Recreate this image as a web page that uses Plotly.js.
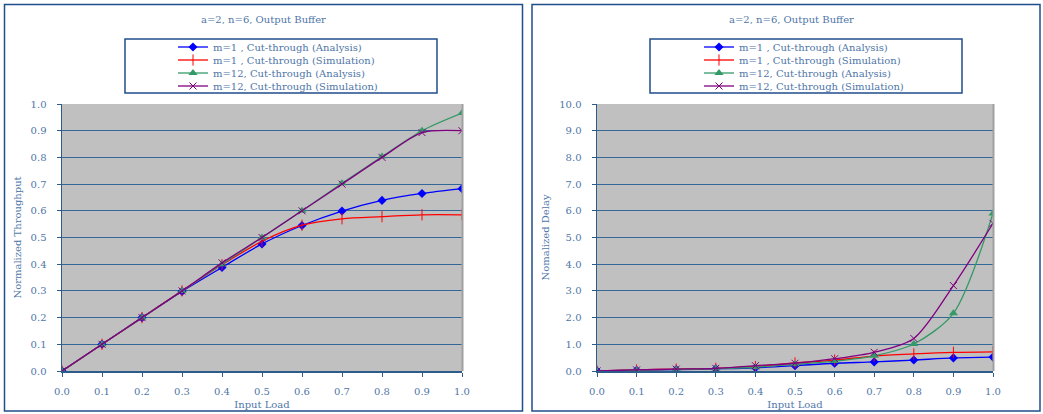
<!DOCTYPE html>
<html>
<head>
<meta charset="utf-8">
<script src="https://cdn.plot.ly/plotly-3.0.1.min.js"></script>
<style>html,body{margin:0;padding:0;background:#fff;}#chart{width:1043px;height:414px;}</style>
</head>
<body>
<div id="chart"></div>
<script>
const inputLoad = [0.0, 0.1, 0.2, 0.3, 0.4, 0.5, 0.6, 0.7, 0.8, 0.9, 1.0];
const seriesNames = [
  "m=1 , Cut-through (Analysis)",
  "m=1 , Cut-through (Simulation)",
  "m=12, Cut-through (Analysis)",
  "m=12, Cut-through (Simulation)"
];
// Left: normalized throughput
const thrM1Ana = [0, 0.1, 0.2, 0.298, 0.388, 0.476, 0.545, 0.599, 0.639, 0.665, 0.683];
const thrM1Sim = [0, 0.1, 0.2, 0.3, 0.398, 0.486, 0.546, 0.570, 0.578, 0.585, 0.585];
const thrM12Ana = [0, 0.1, 0.2, 0.3, 0.4, 0.5, 0.6, 0.703, 0.803, 0.9, 0.966];
const thrM12Sim = [0, 0.1, 0.2, 0.3, 0.405, 0.5, 0.6, 0.7, 0.8, 0.893, 0.90];
// Right: normalized delay
const delM1Ana = [0, 0.03, 0.05, 0.08, 0.12, 0.2, 0.29, 0.34, 0.41, 0.49, 0.52];
const delM1Sim = [0, 0.04, 0.07, 0.1, 0.17, 0.3, 0.41, 0.56, 0.64, 0.70, 0.72];
const delM12Ana = [0, 0.03, 0.06, 0.09, 0.14, 0.25, 0.37, 0.57, 1.01, 2.16, 5.9];
const delM12Sim = [0, 0.04, 0.07, 0.1, 0.2, 0.29, 0.46, 0.7, 1.22, 3.2, 5.53];

const chartTitle = "a=2, n=6, Output Buffer";
const xTitle = "Input Load";
const yTitleLeft = "Normalized Throughput";
const yTitleRight = "Nomalized Delay";

const styles = [
  {color: "#0000ff", symbol: "diamond", size: 7, lw: 0},
  {color: "#ff0000", symbol: "line-ns", size: 8, lw: 1},
  {color: "#339966", symbol: "triangle-up", size: 8, lw: 0},
  {color: "#800080", symbol: "x-thin", size: 7, lw: 1}
];

function mk(y, i, xa, ya, leg) {
  const s = styles[i];
  return {
    x: inputLoad, y: y, name: seriesNames[i], type: "scatter", mode: "lines+markers",
    xaxis: xa, yaxis: ya, legend: leg,
    line: {color: s.color, width: 1.3, shape: "spline", smoothing: 0.8},
    marker: {color: s.color, symbol: s.symbol, size: s.size, line: {color: s.color, width: s.lw}}
  };
}
const data = [
  mk(thrM1Ana, 0, "x", "y", "legend"), mk(thrM1Sim, 1, "x", "y", "legend"),
  mk(thrM12Ana, 2, "x", "y", "legend"), mk(thrM12Sim, 3, "x", "y", "legend"),
  mk(delM1Ana, 0, "x2", "y2", "legend2"), mk(delM1Sim, 1, "x2", "y2", "legend2"),
  mk(delM12Ana, 2, "x2", "y2", "legend2"), mk(delM12Sim, 3, "x2", "y2", "legend2")
];

const W = 1043, H = 414;
const px = v => v / W, py = v => (H - v) / H;
const txtColor = "#4f76a8";
const axisColor = "#2e5c8a";
const fam = "DejaVu Serif, serif";
const fnt = {family: fam, size: 10, color: txtColor};

function xax(domain, anchor) {
  return {
    domain: domain, anchor: anchor, range: [0, 1], tickvals: inputLoad, tickformat: ".1f",
    ticks: "outside", ticklen: 4, tickcolor: axisColor, showline: true, linecolor: axisColor, linewidth: 1.5,
    showgrid: false, zeroline: false, tickfont: fnt, ticklabelstandoff: 6,
    title: {text: xTitle, font: fnt, standoff: 5}
  };
}
function yax(domain, anchor, rng, dt, title) {
  return {
    domain: domain, anchor: anchor, range: rng, dtick: dt, tick0: 0, tickformat: ".1f",
    ticks: "outside", ticklen: 4, tickcolor: axisColor, showline: true, linecolor: axisColor, linewidth: 1.5,
    showgrid: true, gridcolor: "#336699", gridwidth: 1, zeroline: false, tickfont: fnt, ticklabelstandoff: 8,
    title: {text: title, font: fnt, standoff: 7}
  };
}
const yDom = [py(371), py(104)];
const legFont = {family: fam, size: 10, color: txtColor};
const layout = {
  width: W, height: H, margin: {l: 0, r: 0, t: 0, b: 0},
  paper_bgcolor: "#ffffff", plot_bgcolor: "#c0c0c0", font: fnt, showlegend: true,
  xaxis: xax([px(62), px(462)], "y"),
  yaxis: yax(yDom, "x", [0, 1], 0.1, yTitleLeft),
  xaxis2: xax([px(597), px(993)], "y2"),
  yaxis2: yax(yDom, "x2", [0, 10], 1, yTitleRight),
  legend: {x: px(173), y: py(38), xanchor: "left", yanchor: "top", bgcolor: "rgba(0,0,0,0)",
    font: legFont, tracegroupgap: 0, itemwidth: 30},
  legend2: {x: px(699), y: py(38), xanchor: "left", yanchor: "top", bgcolor: "rgba(0,0,0,0)",
    font: legFont, tracegroupgap: 0, itemwidth: 30},
  annotations: [
    {text: chartTitle, xref: "paper", yref: "paper", x: px(263), y: py(20), xanchor: "center", yanchor: "middle", showarrow: false, font: fnt},
    {text: chartTitle, xref: "paper", yref: "paper", x: px(791), y: py(20), xanchor: "center", yanchor: "middle", showarrow: false, font: fnt}
  ],
  shapes: [
    {type: "rect", xref: "paper", yref: "paper", x0: px(4.5), x1: px(522.5), y0: py(411), y1: py(4.5), line: {color: "#1f4e8c", width: 1.5}},
    {type: "rect", xref: "paper", yref: "paper", x0: px(532), x1: px(1040), y0: py(411), y1: py(4.5), line: {color: "#1f4e8c", width: 1.5}},
    {type: "rect", xref: "paper", yref: "paper", x0: px(125), x1: px(437), y0: py(93), y1: py(39), line: {color: "#1f4e8c", width: 1.5}},
    {type: "rect", xref: "paper", yref: "paper", x0: px(650), x1: px(962), y0: py(93), y1: py(39), line: {color: "#1f4e8c", width: 1.5}},
    {type: "line", xref: "paper", yref: "paper", x0: px(462.5), x1: px(462.5), y0: py(371), y1: py(104), line: {color: "#a0a0a0", width: 2}},
    {type: "line", xref: "paper", yref: "paper", x0: px(993.5), x1: px(993.5), y0: py(371), y1: py(104), line: {color: "#a0a0a0", width: 2}}
  ]
};

function parseT(el) {
  const t = el.getAttribute("transform") || "";
  const m = t.match(/translate\(\s*([-\d.e]+)[ ,]+([-\d.e]+)\s*\)/);
  return m ? [parseFloat(m[1]), parseFloat(m[2])] : [0, 0];
}
Plotly.newPlot("chart", data, layout, {displayModeBar: false, staticPlot: true}).then(function (gd) {
  // tighten legend row spacing to match the reference (13px rows, first row centred at y=47)
  gd.querySelectorAll("g.infolayer > g").forEach(function (lg) {
    const cls = lg.getAttribute("class") || "";
    if (!/^legend\d*$/.test(cls)) return;
    const lt = parseT(lg);
    lg.querySelectorAll("g.traces").forEach(function (tr, i) {
      let off = 0, n = tr.parentNode;
      while (n && n !== lg) { off += parseT(n)[1]; n = n.parentNode; }
      const tx = parseT(tr)[0];
      tr.setAttribute("transform", "translate(" + tx + "," + (47 + i * 13 - lt[1] - off) + ")");
    });
  });
});
</script>
</body>
</html>
